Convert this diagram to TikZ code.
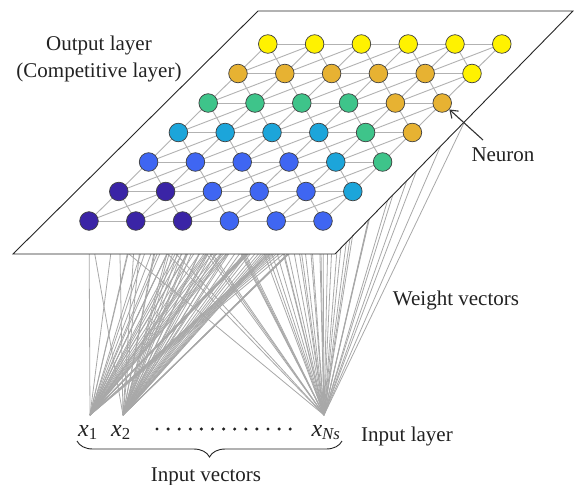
\documentclass[tikz,border=0pt]{standalone}
\usepackage{fontspec}
\setmainfont{Liberation Serif}
\usetikzlibrary{decorations.pathreplacing,arrows.meta}
\definecolor{cD}{HTML}{3A24A6}
\definecolor{cB}{HTML}{3F66F2}
\definecolor{cC}{HTML}{1CA5DA}
\definecolor{cG}{HTML}{3EC48A}
\definecolor{cO}{HTML}{E7B232}
\definecolor{cY}{HTML}{FFF200}
\definecolor{txt}{HTML}{222222}
\begin{document}
\begin{tikzpicture}[x=1pt,y=-1pt,
  neuron/.style={circle,draw=black!75,line width=0.7pt,minimum size=18.6pt,inner sep=0pt},
  gridline/.style={draw=black!30,line width=0.9pt},
  weight/.style={draw=black!34,line width=0.8pt},
  lbl/.style={font=\fontsize{21}{24}\selectfont,text=txt,inner sep=1pt},
  xlbl/.style={font=\fontsize{24}{26}\selectfont,text=txt,inner sep=1pt,anchor=base}]
\useasboundingbox (0,0) rectangle (574,485);
% neuron centres
\foreach \i in {0,...,6}{
  \foreach \j in {0,...,5}{
    \coordinate (p-\i-\j) at ({89+46.8*\j+29.8*\i},{221-29.5*\i});
  }
}
% inputs
\coordinate (in1) at (90,415);
\coordinate (in2) at (123,415);
\coordinate (inN) at (324,415);
% weight vectors
\foreach \i in {0,...,6}{
  \foreach \j in {0,...,5}{
    \draw[weight] (in1) -- (p-\i-\j);
    \draw[weight] (in2) -- (p-\i-\j);
    \draw[weight] (inN) -- (p-\i-\j);
  }
}
% plane
\draw[fill=white,line width=0.9pt,draw=black!85] (13,254) -- (335,254) -- (573,11) -- (258,11) -- cycle;
% grid
\foreach \i in {0,...,6}{
  \foreach \j in {0,...,5}{
    \pgfmathtruncatemacro\ni{\i+1}
    \pgfmathtruncatemacro\nj{\j+1}
    \pgfmathtruncatemacro\pj{\j-1}
    \ifnum\j<5 \draw[gridline] (p-\i-\j) -- (p-\i-\nj); \fi
    \ifnum\i<6
      \draw[gridline] (p-\i-\j) -- (p-\ni-\j);
      \ifnum\j<5 \draw[gridline] (p-\i-\j) -- (p-\ni-\nj); \fi
      \ifnum\j>0 \draw[gridline] (p-\i-\j) -- (p-\ni-\pj); \fi
    \fi
  }
}
% neurons
\foreach \i/\cols in {0/{D,D,D,B,B,B},1/{D,D,B,B,B,C},2/{B,B,B,B,C,G},3/{C,C,C,C,G,O},4/{G,G,G,G,O,O},5/{O,O,O,O,O,Y},6/{Y,Y,Y,Y,Y,Y}}{
  \foreach \c [count=\jj from 0] in \cols {
    \node[neuron,fill=c\c] (n-\i-\jj) at (p-\i-\jj) {};
  }
}
% texts
\node[lbl] (out1) at (99,45) {Output layer};
\node[lbl] (out2) at (99,72) {(Competitive layer)};
\node[lbl] (neur) at (503,155) {Neuron};
\coordinate (ntail) at (483,140);
\draw[-{Straight Barb[length=7pt,width=10pt]},line width=1.1pt,draw=black!80] (ntail) -- (n-4-5);
\node[lbl] (wv) at (456,300) {Weight vectors};
\node[lbl] (il) at (407,436) {Input layer};
\node[xlbl] (l1) at (88,436) {\textit{x}\textsubscript{1}};
\node[xlbl] (l2) at (121,436) {\textit{x}\textsubscript{2}};
\node[xlbl] (lN) at (326,436) {\textit{x}\textsubscript{\textit{Ns}}};
\foreach \k in {0,...,12}{
  \fill[txt] ({157+11.1*\k},429) circle (1.7pt);
}
\draw[decorate,decoration={brace,amplitude=16pt,mirror},line width=0.9pt,draw=txt] (77,441) -- (342,441);
\node[lbl] (iv) at (206,477) {Input vectors};
\end{tikzpicture}
\end{document}
